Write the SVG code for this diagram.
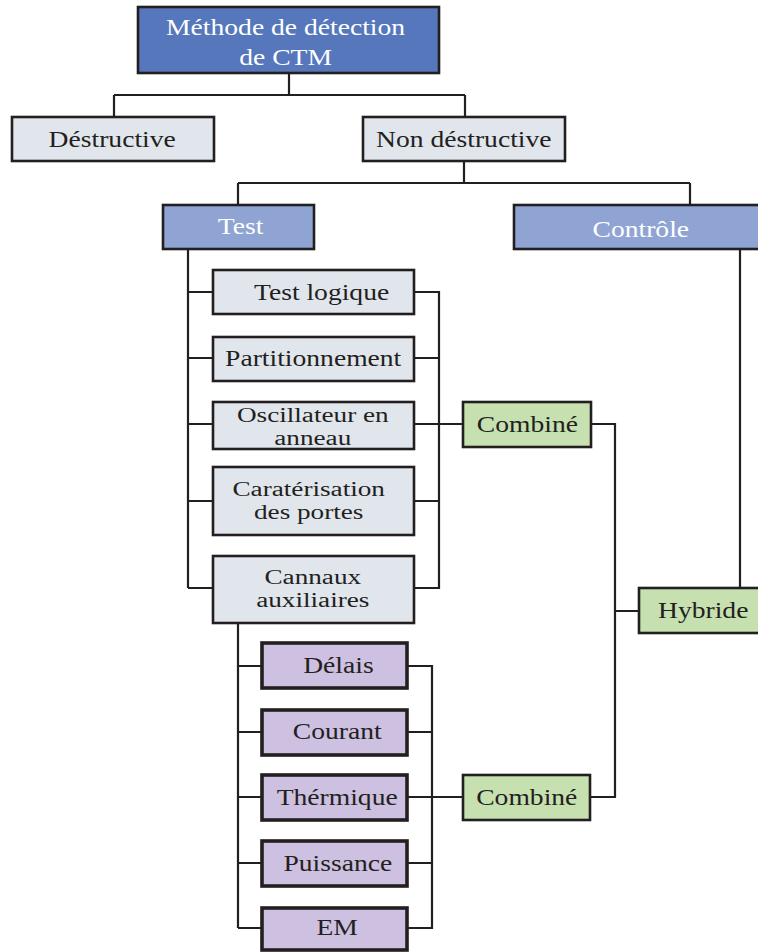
<svg xmlns="http://www.w3.org/2000/svg" width="758" height="952" viewBox="0 0 758 952">
<style>
  .box { stroke: #231f20; stroke-width: 2.6; }
  .dark { fill: #5677bb; }
  .mid { fill: #8fa4d3; }
  .light { fill: #e1e6ed; }
  .purple { fill: #cdc0e0; stroke-width: 3.6; }
  .green { fill: #c6e0b0; }
  text { font-family: "Liberation Serif", "Times New Roman", serif; font-size: 23px; text-anchor: middle; fill: #231f20; }
  text.two { font-size: 20px; }
  text.w { fill: #ffffff; }
  .conn path { fill: none; stroke: #231f20; stroke-width: 2.2; }
</style>
<rect width="758" height="952" fill="#ffffff"/>

<g class="conn" id="connectors">
  <path d="M289,73 V95 M114,95 H465 M114,95 V117 M465,95 V117"/>
  <path d="M464,161 V183 M238,183 H690 M238,183 V205 M690,183 V205"/>
  <path d="M188,249 V588 M188,292 H213 M188,358 H213 M188,424 H213 M188,501 H213 M188,588 H213"/>
  <path d="M414,292 H439 V588 H414 M414,358 H439 M414,501 H439 M414,424 H463"/>
  <path d="M591,424 H615 V797 H590 M615,611 H639"/>
  <path d="M740,249 V588"/>
  <path d="M238,623 V928 M238,666 H262 M238,732 H262 M238,797 H262 M238,863 H262 M238,928 H262"/>
  <path d="M407,666 H432 V928 H407 M407,732 H432 M407,863 H432 M407,797 H463"/>
</g>

<g id="n-root">
  <rect class="box dark" x="138" y="7" width="301" height="66"/>
  <text class="w" x="238" y="35" transform="scale(1.2 1)">Méthode de détection</text>
  <text class="w" x="238" y="65" transform="scale(1.2 1)">de CTM</text>
</g>
<g id="n-destructive">
  <rect class="box light" x="12" y="117" width="202" height="44"/>
  <text x="93.5" y="147" transform="scale(1.2 1)">Déstructive</text>
</g>
<g id="n-nondestructive">
  <rect class="box light" x="363" y="117" width="202" height="44"/>
  <text x="386.5" y="147" transform="scale(1.2 1)">Non déstructive</text>
</g>
<g id="n-test">
  <rect class="box mid" x="163" y="205" width="151" height="44"/>
  <text class="w" x="200.5" y="234" transform="scale(1.2 1)">Test</text>
</g>
<g id="n-controle">
  <rect class="box mid" x="514" y="205" width="250" height="44"/>
  <text class="w" x="534" y="237" transform="scale(1.2 1)">Contrôle</text>
</g>
<g id="n-testlogique">
  <rect class="box light" x="213" y="270" width="201" height="44"/>
  <text x="268" y="300" transform="scale(1.2 1)">Test logique</text>
</g>
<g id="n-partitionnement">
  <rect class="box light" x="213" y="337" width="201" height="44"/>
  <text x="261" y="366" transform="scale(1.2 1)">Partitionnement</text>
</g>
<g id="n-oscillateur">
  <rect class="box light" x="213" y="402" width="201" height="47"/>
  <text class="two" x="230" y="422" transform="scale(1.36 1)">Oscillateur en</text>
  <text class="two" x="230" y="445" transform="scale(1.36 1)">anneau</text>
</g>
<g id="n-caracterisation">
  <rect class="box light" x="213" y="467" width="201" height="68"/>
  <text class="two" x="227" y="496" transform="scale(1.36 1)">Caratérisation</text>
  <text class="two" x="227" y="519" transform="scale(1.36 1)">des portes</text>
</g>
<g id="n-cannaux">
  <rect class="box light" x="213" y="556" width="201" height="67"/>
  <text class="two" x="230" y="584" transform="scale(1.36 1)">Cannaux</text>
  <text class="two" x="230" y="607" transform="scale(1.36 1)">auxiliaires</text>
</g>
<g id="n-combine1">
  <rect class="box green" x="463" y="402" width="128" height="45"/>
  <text x="439.5" y="432" transform="scale(1.2 1)">Combiné</text>
</g>
<g id="n-hybride">
  <rect class="box green" x="639" y="588" width="125" height="45"/>
  <text x="586" y="618" transform="scale(1.2 1)">Hybride</text>
</g>
<g id="n-delais">
  <rect class="box purple" x="262" y="643" width="145" height="45"/>
  <text x="282" y="673" transform="scale(1.2 1)">Délais</text>
</g>
<g id="n-courant">
  <rect class="box purple" x="262" y="710" width="145" height="45"/>
  <text x="281" y="739" transform="scale(1.2 1)">Courant</text>
</g>
<g id="n-thermique">
  <rect class="box purple" x="262" y="775" width="145" height="45"/>
  <text x="281" y="805" transform="scale(1.2 1)">Thérmique</text>
</g>
<g id="n-puissance">
  <rect class="box purple" x="262" y="841" width="145" height="45"/>
  <text x="281.5" y="871" transform="scale(1.2 1)">Puissance</text>
</g>
<g id="n-em">
  <rect class="box purple" x="262" y="908" width="145" height="42"/>
  <text x="281" y="935" transform="scale(1.2 1)">EM</text>
</g>
<g id="n-combine2">
  <rect class="box green" x="463" y="775" width="127" height="45"/>
  <text x="439" y="805" transform="scale(1.2 1)">Combiné</text>
</g>
</svg>
